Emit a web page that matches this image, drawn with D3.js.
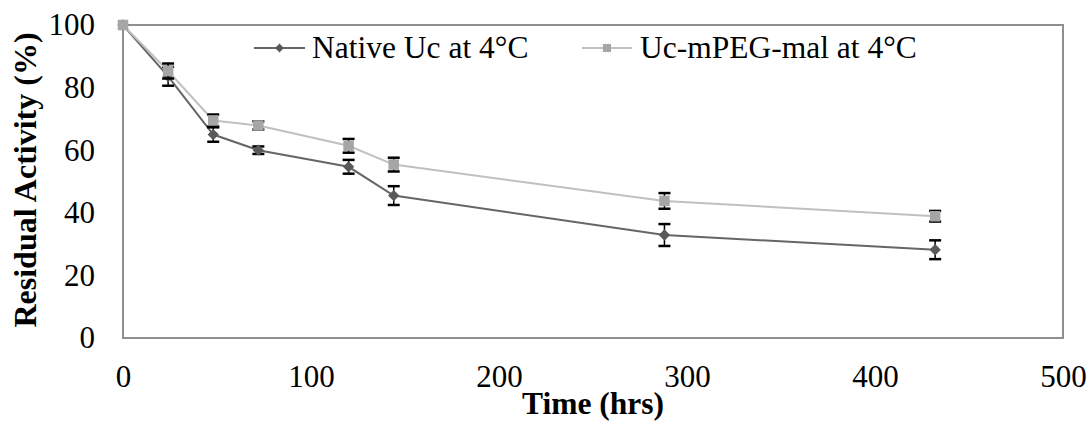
<!DOCTYPE html>
<html>
<head>
<meta charset="utf-8">
<script src="https://cdn.jsdelivr.net/npm/d3@7"></script>
<style>
  html, body { margin: 0; padding: 0; background: #fff; }
  svg { display: block; }
  svg text { font-family: "Liberation Serif", "Times New Roman", Times, "DejaVu Serif", serif; fill: #000; }
</style>
</head>
<body>
<svg id="chart" width="1091" height="421"></svg>
<script>
// Sampling times (hours)
const times = [0, 24, 48, 72, 120, 144, 288, 432];

// Residual activity (%) and standard deviations
const nativeValues = [100, 83.6, 65.0, 60.0, 54.7, 45.5, 32.9, 28.2];
const nativeErrors = [0, 3.0, 2.3, 1.2, 2.2, 3.0, 3.5, 3.0];
const pegValues = [100, 85.3, 69.5, 67.9, 61.4, 55.4, 43.8, 38.9];
const pegErrors = [0, 2.4, 1.9, 1.3, 2.2, 2.2, 2.5, 1.7];

const seriesNames = ["Native Uc at 4°C", "Uc-mPEG-mal at 4°C"];
const xTicks = [0, 100, 200, 300, 400, 500];
const yTicks = [0, 20, 40, 60, 80, 100];

// Square rotated 45°, as wide as it is tall
const squareDiamond = {
  draw(ctx, size) {
    const r = Math.sqrt(size / 2);
    ctx.moveTo(0, -r);
    ctx.lineTo(r, 0);
    ctx.lineTo(0, r);
    ctx.lineTo(-r, 0);
    ctx.closePath();
  }
};

const series = [
  { name: seriesNames[0], values: nativeValues, errors: nativeErrors,
    line: "#666666", fill: "#595959", symbol: squareDiamond, size: 64 },
  { name: seriesNames[1], values: pegValues, errors: pegErrors,
    line: "#c0c0c0", fill: "#a6a6a6", symbol: d3.symbolSquare, size: 110 }
];

const svg = d3.select("#chart");
const plotLeft = 123, plotRight = 1063, plotTop = 25, plotBottom = 338;

const x = d3.scaleLinear().domain([0, 500]).range([plotLeft, plotRight]);
const y = d3.scaleLinear().domain([0, 100]).range([plotBottom, plotTop]);

// Plot frame
svg.append("rect")
  .attr("x", plotLeft).attr("y", plotTop)
  .attr("width", plotRight - plotLeft).attr("height", plotBottom - plotTop)
  .attr("fill", "none").attr("stroke", "#8f8f8f").attr("stroke-width", 2);

// Axes (labels only)
const yAxis = svg.append("g")
  .attr("transform", `translate(${plotLeft - 28},0)`)
  .call(d3.axisLeft(y).tickValues(yTicks).tickSize(0).tickPadding(0));
yAxis.attr("font-family", null).attr("font-size", null);
yAxis.select(".domain").remove();
yAxis.selectAll("text").attr("font-size", 31).attr("fill", "#000");

const xAxis = svg.append("g")
  .attr("transform", `translate(0,${plotBottom + 27})`)
  .call(d3.axisBottom(x).tickValues(xTicks).tickSize(0).tickPadding(0));
xAxis.attr("font-family", null).attr("font-size", null);
xAxis.select(".domain").remove();
xAxis.selectAll("text").attr("font-size", 31).attr("fill", "#000");

// Axis titles
svg.append("text")
  .attr("x", (plotLeft + plotRight) / 2).attr("y", 414)
  .attr("text-anchor", "middle")
  .attr("font-size", 31.5).attr("font-weight", "bold")
  .text("Time (hrs)");

svg.append("text")
  .attr("transform", "translate(36,180) rotate(-90)")
  .attr("text-anchor", "middle")
  .attr("font-size", 32).attr("font-weight", "bold")
  .text("Residual Activity (%)");

// Series: line, error bars, markers
series.forEach(s => {
  const pts = times.map((t, i) => ({ t, v: s.values[i], e: s.errors[i] }));

  svg.append("path")
    .datum(pts)
    .attr("fill", "none")
    .attr("stroke", s.line)
    .attr("stroke-width", 2)
    .attr("d", d3.line().x(d => x(d.t)).y(d => y(d.v)));

  const g = svg.append("g");
  pts.forEach(d => {
    if (d.e <= 0) return;
    const cx = x(d.t);
    g.append("line")
      .attr("x1", cx).attr("x2", cx)
      .attr("y1", y(d.v - d.e)).attr("y2", y(d.v + d.e))
      .attr("stroke", "#000").attr("stroke-width", 1.5);
    [d.v - d.e, d.v + d.e].forEach(val => {
      g.append("line")
        .attr("x1", cx - 6).attr("x2", cx + 6)
        .attr("y1", y(val)).attr("y2", y(val))
        .attr("stroke", "#000").attr("stroke-width", 2.5);
    });
  });

  svg.append("g").selectAll("path")
    .data(pts)
    .join("path")
    .attr("transform", d => `translate(${x(d.t)},${y(d.v)})`)
    .attr("d", d3.symbol().type(s.symbol).size(s.size))
    .attr("fill", s.fill);
});

// Legend
const legendItems = [
  { s: series[0], x0: 254, x1: 305, tx: 312 },
  { s: series[1], x0: 582, x1: 632, tx: 640 }
];
const ly = 48;
legendItems.forEach(item => {
  svg.append("line")
    .attr("x1", item.x0).attr("x2", item.x1)
    .attr("y1", ly).attr("y2", ly)
    .attr("stroke", item.s.line).attr("stroke-width", 2);
  svg.append("path")
    .attr("transform", `translate(${(item.x0 + item.x1) / 2},${ly})`)
    .attr("d", d3.symbol().type(item.s.symbol).size(item.s.size * 0.6))
    .attr("fill", item.s.fill);
  svg.append("text")
    .attr("x", item.tx).attr("y", 58)
    .attr("font-size", 31.5)
    .text(item.s.name);
});
</script>
</body>
</html>
